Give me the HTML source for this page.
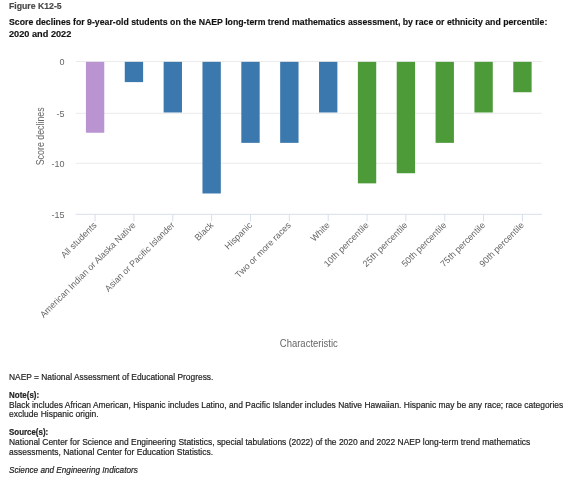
<!DOCTYPE html>
<html><head><meta charset="utf-8"><style>
html,body{margin:0;padding:0;background:#fff;width:570px;height:504px;overflow:hidden}
svg{display:block;font-family:'Liberation Sans',sans-serif;will-change:transform}
text{font-family:'Liberation Sans',sans-serif}
.nt{stroke:#222;stroke-width:0.2px}
</style></head><body>
<svg width="570" height="504" viewBox="0 0 570 504">
<line x1="75.7" x2="541.9" y1="61.50" y2="61.50" stroke="#ebebeb" stroke-width="1"/>
<line x1="75.7" x2="541.9" y1="113.30" y2="113.30" stroke="#ebebeb" stroke-width="1"/>
<line x1="75.7" x2="541.9" y1="163.30" y2="163.30" stroke="#ebebeb" stroke-width="1"/>
<text x="64.5" y="64.70" text-anchor="end" font-size="9" fill="#666">0</text>
<text x="64.5" y="116.50" text-anchor="end" font-size="9" fill="#666">-5</text>
<text x="64.5" y="166.50" text-anchor="end" font-size="9" fill="#666">-10</text>
<text x="64.5" y="217.50" text-anchor="end" font-size="9" fill="#666">-15</text>
<rect x="85.92" y="61.86" width="18.35" height="70.88" fill="#b994d1"/>
<rect x="124.77" y="61.86" width="18.35" height="20.25" fill="#3b78ae"/>
<rect x="163.62" y="61.86" width="18.35" height="50.62" fill="#3b78ae"/>
<rect x="202.47" y="61.86" width="18.35" height="131.62" fill="#3b78ae"/>
<rect x="241.32" y="61.86" width="18.35" height="81.00" fill="#3b78ae"/>
<rect x="280.18" y="61.86" width="18.35" height="81.00" fill="#3b78ae"/>
<rect x="319.03" y="61.86" width="18.35" height="50.62" fill="#3b78ae"/>
<rect x="357.87" y="61.86" width="18.35" height="121.50" fill="#4c9b38"/>
<rect x="396.72" y="61.86" width="18.35" height="111.38" fill="#4c9b38"/>
<rect x="435.57" y="61.86" width="18.35" height="81.00" fill="#4c9b38"/>
<rect x="474.43" y="61.86" width="18.35" height="50.62" fill="#4c9b38"/>
<rect x="513.28" y="61.86" width="18.35" height="30.38" fill="#4c9b38"/>
<line x1="75.7" x2="541.9" y1="214.30" y2="214.30" stroke="#d6dfec" stroke-width="1"/>
<line x1="95.10" x2="95.10" y1="214.30" y2="221.30" stroke="#d6dfec" stroke-width="1"/>
<text transform="translate(97.30,225.70) rotate(-45)" text-anchor="end" font-size="9" fill="#666">All students</text>
<line x1="133.95" x2="133.95" y1="214.30" y2="221.30" stroke="#d6dfec" stroke-width="1"/>
<text transform="translate(136.15,225.70) rotate(-45)" text-anchor="end" font-size="9" fill="#666" textLength="130.8" lengthAdjust="spacingAndGlyphs">American Indian or Alaska Native</text>
<line x1="172.80" x2="172.80" y1="214.30" y2="221.30" stroke="#d6dfec" stroke-width="1"/>
<text transform="translate(175.00,225.70) rotate(-45)" text-anchor="end" font-size="9" fill="#666" textLength="94.0" lengthAdjust="spacingAndGlyphs">Asian or Pacific Islander</text>
<line x1="211.65" x2="211.65" y1="214.30" y2="221.30" stroke="#d6dfec" stroke-width="1"/>
<text transform="translate(213.85,225.70) rotate(-45)" text-anchor="end" font-size="9" fill="#666">Black</text>
<line x1="250.50" x2="250.50" y1="214.30" y2="221.30" stroke="#d6dfec" stroke-width="1"/>
<text transform="translate(252.70,225.70) rotate(-45)" text-anchor="end" font-size="9" fill="#666">Hispanic</text>
<line x1="289.35" x2="289.35" y1="214.30" y2="221.30" stroke="#d6dfec" stroke-width="1"/>
<text transform="translate(291.55,225.70) rotate(-45)" text-anchor="end" font-size="9" fill="#666">Two or more races</text>
<line x1="328.20" x2="328.20" y1="214.30" y2="221.30" stroke="#d6dfec" stroke-width="1"/>
<text transform="translate(330.40,225.70) rotate(-45)" text-anchor="end" font-size="9" fill="#666">White</text>
<line x1="367.05" x2="367.05" y1="214.30" y2="221.30" stroke="#d6dfec" stroke-width="1"/>
<text transform="translate(369.25,225.70) rotate(-45)" text-anchor="end" font-size="9" fill="#666">10th percentile</text>
<line x1="405.90" x2="405.90" y1="214.30" y2="221.30" stroke="#d6dfec" stroke-width="1"/>
<text transform="translate(408.10,225.70) rotate(-45)" text-anchor="end" font-size="9" fill="#666">25th percentile</text>
<line x1="444.75" x2="444.75" y1="214.30" y2="221.30" stroke="#d6dfec" stroke-width="1"/>
<text transform="translate(446.95,225.70) rotate(-45)" text-anchor="end" font-size="9" fill="#666">50th percentile</text>
<line x1="483.60" x2="483.60" y1="214.30" y2="221.30" stroke="#d6dfec" stroke-width="1"/>
<text transform="translate(485.80,225.70) rotate(-45)" text-anchor="end" font-size="9" fill="#666">75th percentile</text>
<line x1="522.45" x2="522.45" y1="214.30" y2="221.30" stroke="#d6dfec" stroke-width="1"/>
<text transform="translate(524.65,225.70) rotate(-45)" text-anchor="end" font-size="9" fill="#666">90th percentile</text>
<text x="308.80" y="347" text-anchor="middle" font-size="10" fill="#666" textLength="58" lengthAdjust="spacingAndGlyphs">Characteristic</text>
<text transform="translate(43.5,136.3) rotate(-90)" text-anchor="middle" font-size="10" fill="#666" textLength="58" lengthAdjust="spacingAndGlyphs">Score declines</text>
<text x="9" y="9.3" font-size="9" font-weight="bold" fill="#4a4a4a" stroke="#4a4a4a" stroke-width="0.2" textLength="52.6" lengthAdjust="spacingAndGlyphs">Figure K12-5</text>
<text x="9" y="25" font-size="9.5" font-weight="bold" fill="#111" stroke="#111" stroke-width="0.15" textLength="538.3" lengthAdjust="spacingAndGlyphs">Score declines for 9-year-old students on the NAEP long-term trend mathematics assessment, by race or ethnicity and percentile:</text>
<text x="9" y="37.3" font-size="9.2" font-weight="bold" fill="#111" stroke="#111" stroke-width="0.15">2020 and 2022</text>
<text class="nt" x="9" y="380.2" font-size="9.5" font-weight="normal" font-style="normal" fill="#222" textLength="204.4" lengthAdjust="spacingAndGlyphs">NAEP = National Assessment of Educational Progress.</text>
<text class="nt" x="9" y="397.6" font-size="9.5" font-weight="bold" font-style="normal" fill="#222" textLength="30.2" lengthAdjust="spacingAndGlyphs">Note(s):</text>
<text class="nt" x="9" y="407.6" font-size="9.5" font-weight="normal" font-style="normal" fill="#222" textLength="554.2" lengthAdjust="spacingAndGlyphs">Black includes African American, Hispanic includes Latino, and Pacific Islander includes Native Hawaiian. Hispanic may be any race; race categories</text>
<text class="nt" x="9" y="417.1" font-size="9.5" font-weight="normal" font-style="normal" fill="#222" textLength="89.7" lengthAdjust="spacingAndGlyphs">exclude Hispanic origin.</text>
<text class="nt" x="9" y="435.2" font-size="9.5" font-weight="bold" font-style="normal" fill="#222" textLength="39.2" lengthAdjust="spacingAndGlyphs">Source(s):</text>
<text class="nt" x="9" y="444.8" font-size="9.5" font-weight="normal" font-style="normal" fill="#222" textLength="521.2" lengthAdjust="spacingAndGlyphs">National Center for Science and Engineering Statistics, special tabulations (2022) of the 2020 and 2022 NAEP long-term trend mathematics</text>
<text class="nt" x="9" y="454.7" font-size="9.5" font-weight="normal" font-style="normal" fill="#222" textLength="204.1" lengthAdjust="spacingAndGlyphs">assessments, National Center for Education Statistics.</text>
<text class="nt" x="9" y="473.0" font-size="9.5" font-weight="normal" font-style="italic" fill="#222" textLength="128.8" lengthAdjust="spacingAndGlyphs">Science and Engineering Indicators</text>
</svg>
</body></html>
